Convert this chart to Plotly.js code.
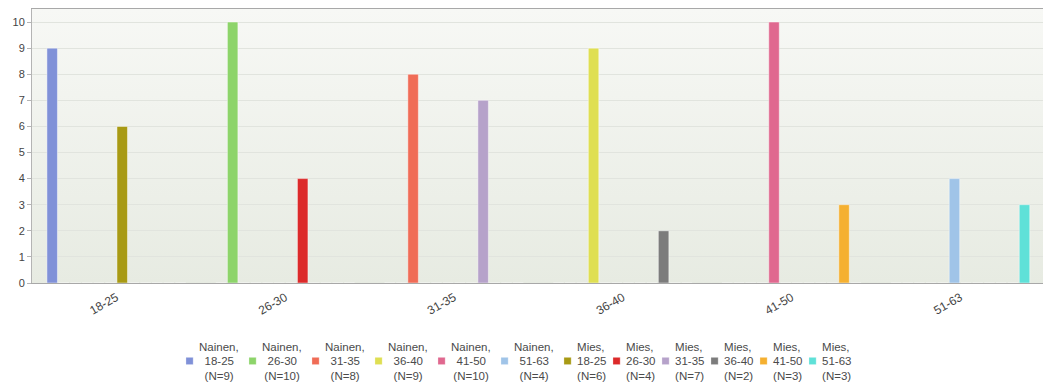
<!DOCTYPE html>
<html>
<head>
<meta charset="utf-8">
<script src="https://cdn.plot.ly/plotly-3.0.1.min.js"></script>
<style>
  html, body { margin: 0; padding: 0; background: #fff; }
  #chart { width: 1043px; height: 383px; }
  /* small square legend keys sitting just left of the text */
  #chart .legend .legendpoints path { transform: translate(30.5px, 0px) scale(0.6); }
</style>
</head>
<body>
<div id="chart"></div>
<script>
// Age groups on the x axis
const categories = ['18-25', '26-30', '31-35', '36-40', '41-50', '51-63'];

// Respondent counts per age group
const naisetN = [9, 10, 8, 9, 10, 4];   // Nainen
const miehetN = [6, 4, 7, 2, 3, 3];     // Mies

// Series colours
const naisetColors = ['#8091d8', '#8dd46a', '#f06c56', '#dfdf52', '#e0688f', '#a0c4e8'];
const miehetColors = ['#a89a14', '#dc2a2a', '#b6a2ca', '#7c7c7c', '#f5b030', '#5fe1d8'];

const FONT = 'Liberation Sans, Arial, sans-serif';
const NB = '\u00a0', TH = '\u2009';

function padN(s) {
  // centre a short line under the wider "Nainen," line
  if (s.length >= 6) return TH + s;
  return NB + TH + s;
}

function series(gender, counts, colors, i) {
  const label = gender === 'Nainen'
    ? 'Nainen,<br>' + padN(categories[i]) + '<br>' + padN('(N=' + counts[i] + ')')
    : 'Mies,<br>' + categories[i] + '<br>(N=' + counts[i] + ')';
  return {
    type: 'bar',
    name: label,
    x: categories,
    y: categories.map((c, j) => (j === i ? counts[i] : 0)),
    marker: { color: colors[i], line: { color: 'rgba(255,255,255,0.45)', width: 1 } },
    hoverinfo: 'x+y',
    legendwidth: gender === 'Nainen' ? 18 : (i === categories.length - 1 ? 34 : 4)
  };
}

const traces = [];
categories.forEach((c, i) => traces.push(series('Nainen', naisetN, naisetColors, i)));
categories.forEach((c, i) => traces.push(series('Mies', miehetN, miehetColors, i)));

// soft vertical gradient behind the plot area
const bgSvg = 'data:image/svg+xml;utf8,' + encodeURIComponent(
  '<svg xmlns="http://www.w3.org/2000/svg" width="10" height="100" preserveAspectRatio="none">' +
  '<defs><linearGradient id="g" x1="0" y1="0" x2="0" y2="1">' +
  '<stop offset="0" stop-color="#f7f8f5"/><stop offset="1" stop-color="#e7ebe2"/>' +
  '</linearGradient></defs><rect width="10" height="100" fill="url(#g)"/></svg>');

const layout = {
  width: 1043,
  height: 383,
  margin: { l: 32, r: 0, t: 9, b: 100, autoexpand: false },
  paper_bgcolor: '#ffffff',
  plot_bgcolor: 'rgba(0,0,0,0)',
  font: { family: FONT, size: 11, color: '#444' },
  barmode: 'group',
  bargap: 0.17,
  bargroupgap: 0.1,
  showlegend: true,
  images: [{
    source: bgSvg, xref: 'paper', yref: 'paper', x: 0, y: 1,
    sizex: 1, sizey: 1, sizing: 'stretch', xanchor: 'left', yanchor: 'top', layer: 'below'
  }],
  xaxis: {
    type: 'category',
    range: [-0.5, 5.49],
    tickangle: -30,
    tickfont: { family: FONT, size: 12, color: '#444' },
    showgrid: false,
    zeroline: false,
    showline: true,
    linecolor: '#a8a8a8',
    linewidth: 1,
    mirror: true,
    ticks: 'outside',
    ticklen: 2,
    tickcolor: 'rgba(0,0,0,0)',
    fixedrange: true
  },
  yaxis: {
    range: [0, 10.5],
    dtick: 1,
    tick0: 0,
    tickfont: { family: FONT, size: 11, color: '#444' },
    showgrid: true,
    gridcolor: '#e1e4de',
    gridwidth: 1,
    zeroline: false,
    showline: true,
    linecolor: '#b4b4b4',
    linewidth: 1,
    ticks: 'outside',
    ticklen: 4,
    tickcolor: '#b4b4b4',
    fixedrange: true
  },
  legend: {
    orientation: 'h',
    xref: 'container',
    yref: 'paper',
    x: 0.1525,
    xanchor: 'left',
    y: -0.179,
    yanchor: 'top',
    bgcolor: 'rgba(0,0,0,0)',
    font: { family: FONT, size: 11.5, color: '#4a4a4a' },
    traceorder: 'normal',
    itemclick: false,
    itemdoubleclick: false
  }
};

Plotly.newPlot('chart', traces, layout, { displayModeBar: false, staticPlot: false });
</script>
</body>
</html>
